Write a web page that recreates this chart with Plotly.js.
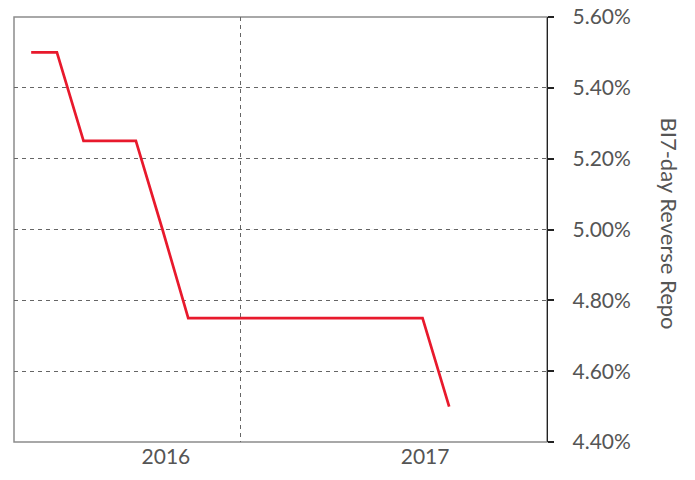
<!DOCTYPE html>
<html>
<head>
<meta charset="utf-8">
<script src="https://cdn.plot.ly/plotly-3.0.1.min.js"></script>
<style>html,body{margin:0;padding:0;background:#fff;}#chart{width:695px;height:480px;}</style>
</head>
<body>
<div id="chart"></div>
<script>
// Monthly BI 7-day Reverse Repo rate (%)
const months = ['2016-04-01','2016-05-01','2016-06-01','2016-07-01','2016-08-01','2016-09-01',
  '2016-10-01','2016-11-01','2016-12-01','2017-01-01','2017-02-01','2017-03-01','2017-04-01',
  '2017-05-01','2017-06-01','2017-07-01','2017-08-01'];
const rates = [5.50,5.50,5.25,5.25,5.25,5.00,4.75,4.75,4.75,4.75,4.75,4.75,4.75,4.75,4.75,4.75,4.50];
const yearLabels = ['2016','2017'];
const yearLabelPos = ['2016-09-05','2017-07-04'];
const gridPos = ['2016-12-01'];
const yTitle = 'BI7-day Reverse Repo';

const FONT = 'Lato, Open Sans, sans-serif';
const xRange = ['2016-03-12','2017-11-23'];

const trace = {
  x: months, y: rates, type: 'scatter', mode: 'lines',
  line: {color: '#e8192c', width: 2.7}, hoverinfo: 'skip', showlegend: false
};

const layout = {
  width: 695, height: 480,
  margin: {l: 14, r: 148, t: 17, b: 38},
  paper_bgcolor: '#fff', plot_bgcolor: '#fff',
  font: {family: FONT, color: '#555'},
  xaxis: {
    type: 'date', range: xRange, tickvals: gridPos, showticklabels: false,
    ticks: '', showgrid: true, gridcolor: '#666', griddash: '4px,4px', gridwidth: 1,
    showline: false, zeroline: false, fixedrange: true
  },
  xaxis2: {
    type: 'date', overlaying: 'x', matches: 'x', side: 'bottom', range: xRange,
    tickvals: yearLabelPos, ticktext: yearLabels, ticks: '', showgrid: false,
    tickfont: {family: FONT, size: 21, color: '#555'}, showline: false, zeroline: false
  },
  yaxis: {
    side: 'right', range: [4.40, 5.60], dtick: 0.2, tick0: 4.4,
    tickformat: '.2f', ticksuffix: '%',
    tickfont: {family: FONT, size: 21, color: '#555'},
    ticks: 'outside', ticklen: 6, tickcolor: '#222', tickwidth: 2,
    ticklabelstandoff: 14,
    showline: true, linecolor: '#222', linewidth: 1.3,
    showgrid: true, gridcolor: '#666', griddash: '4px,4px', gridwidth: 1,
    zeroline: false, fixedrange: true
  },
  shapes: [{
    type: 'rect', xref: 'paper', yref: 'paper', x0: 0, x1: 1, y0: 0, y1: 1,
    line: {color: '#8c8c8c', width: 1.5}, fillcolor: 'rgba(0,0,0,0)', layer: 'below'
  }],
  annotations: [{
    text: yTitle, xref: 'paper', yref: 'paper', x: 1.23, y: 0.515,
    xanchor: 'center', yanchor: 'middle', textangle: 90, showarrow: false,
    font: {family: FONT, size: 22, color: '#555'}
  }]
};

const trace2 = {x: [months[0]], y: [rates[0]], xaxis: 'x2', type: 'scatter', mode: 'none',
  hoverinfo: 'skip', showlegend: false};

Plotly.newPlot('chart', [trace, trace2], layout, {displayModeBar: false, staticPlot: true});
</script>
</body>
</html>
